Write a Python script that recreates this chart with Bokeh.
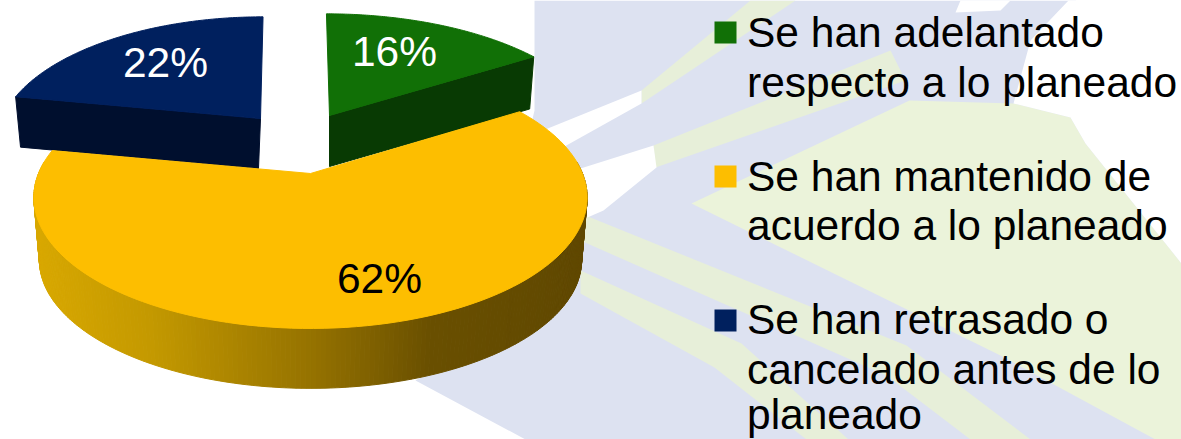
import numpy as np
from bokeh.plotting import figure
from bokeh.models import Range1d
from bokeh.core.properties import value
from bokeh.embed import file_html
from bokeh.resources import INLINE

# data
categories = [
    "Se han adelantado\nrespecto a lo planeado",
    "Se han mantenido de\nacuerdo a lo planeado",
    "Se han retrasado o\ncancelado antes de lo\nplaneado",
]
values = [16, 62, 22]
labels = ["16%", "62%", "22%"]
top_colors = ["#117006", "#fdbe00", "#00205e"]
side_colors = ["#083a03", "#000000", "#000f2e"]
label_colors = ["white", "black", "white"]

# pie projection (reference pixels)
CX, CY = 310.0, 173.0
A, B, K = 272.0, 126.6, 0.183
# dx, dy, x scale, y scale, depth, shear
explode = [(19, -58, 0.985, 0.95, 51, -0.03), (0, 0, 1.0, 1.0, 63, 0.0), (-50, -55, 0.95, 0.95, 50, 0.025)]
label_pos = [(394, 51), (379, 278), (165, 62)]
legend_y = [32, 176, 320]
line_base = [[32, 82], [176, 225], [319, 369, 414]]


def rim(theta, sx=1.0, sy=1.0, cx=CX, cy=CY, shear=0.0):
    s, c = np.sin(theta), np.cos(theta)
    d = 1 - K * s
    dy_ = sy * B * s / d
    return cx + sx * A * c / d - shear * dy_, cy + dy_


p = figure(width=1181, height=439, output_backend="svg", toolbar_location=None,
           x_range=Range1d(0, 1181), y_range=Range1d(439, 0),
           min_border=0, background_fill_color="white", border_fill_color="white")
p.axis.visible = False
p.grid.visible = False
p.outline_line_color = None

# backdrop
BLUE, GREEN, LG = "#dde2f1", "#ebf3da", "#e7efd9"
bg = [
    ([534, 1075, 1181, 1181, 1181, 525, 415, 480, 534], [0, 0, 70, 263, 439, 439, 380, 340, 110], BLUE),
    ([691, 909, 1013, 1070, 1085, 1181, 1181, 1155, 1000], [203, 100, 103, 117, 143, 263, 439, 439, 355], GREEN),
    ([585, 906, 1030, 970, 886, 580], [215, 345, 439, 439, 375, 240], LG),
    ([580, 741, 848, 806, 714, 580], [270, 343, 439, 439, 367, 293], LG),
    ([641, 750, 795, 641], [90, 0, 0, 103], LG),
    ([653, 890, 905, 655], [145, 50, 80, 167], LG),
    ([1068, 1181, 1181, 1085, 1070, 1013, 1030], [0, 0, 263, 143, 117, 103, 40], "#ffffff"),
    ([960, 1010, 1000, 955], [0, 0, 10, 12], "#ffffff"),
    ([530, 641, 641, 530], [135, 90, 103, 165], "#ffffff"),
    ([580, 653, 656, 603, 580], [168, 145, 167, 210, 220], "#ffffff"),
]
p.patches([b[0] for b in bg], [b[1] for b in bg], fill_color=[b[2] for b in bg], line_color=None)

# slice angles, clockwise on screen starting from 12 o'clock
edges = -np.pi / 2 + np.cumsum([0] + values) / sum(values) * 2 * np.pi
spans = list(zip(edges[:-1], edges[1:]))


def outline(i):
    dx, dy, sx, sy, _, shear = explode[i]
    t = np.linspace(spans[i][0], spans[i][1], 120)
    x, y = rim(t, sx, sy, CX + dx, CY + dy, shear)
    return np.r_[CX + dx, x], np.r_[CY + dy, y]


# cut faces of the pulled-out slices
for i, angle, lean in ((0, spans[0][1], 0), (2, spans[2][0], -2)):
    dx, dy, sx, sy, depth, shear = explode[i]
    ex, ey = rim(angle, sx, sy, CX + dx, CY + dy, shear)
    ax, ay = CX + dx, CY + dy
    ex2, ey2 = rim(angle, sx * 0.98, sy * 0.98, CX + dx, CY + dy + depth, shear)
    p.patch([ax, ex, ex2, ax + lean], [ay, ey, ey2, ay + depth],
            fill_color=side_colors[i], line_color=side_colors[i], line_width=1)
    x, y = outline(i)
    p.patch(x, y, fill_color=top_colors[i], line_color=top_colors[i], line_width=1)

# shaded rim of the large slice
stop_x = [38, 150, 310, 430, 585]
stop_rgb = np.array([[216, 168, 0], [196, 153, 0], [150, 115, 0], [106, 80, 0], [96, 72, 0]], float)
depth = explode[1][4]
theta = np.linspace(spans[1][0], spans[1][1], 260)
theta = theta[(theta > -0.1) & (theta < np.pi + 0.1)]
xs_s, ys_s, col = [], [], []
for t0, t1 in zip(theta[:-1], theta[1:]):
    x0, y0 = rim(t0)
    x1, y1 = rim(t1)
    x2, y2 = rim(t1, 0.98, 0.98, CX, CY + depth)
    x3, y3 = rim(t0, 0.98, 0.98, CX, CY + depth)
    xs_s.append([x0, x1, x2, x3])
    ys_s.append([y0, y1, y2, y3])
    mid = (x0 + x1) / 2
    rgb = [int(np.interp(mid, stop_x, stop_rgb[:, k])) for k in range(3)]
    col.append("#%02x%02x%02x" % tuple(rgb))
p.patches(xs_s, ys_s, fill_color=col, line_color=col, line_width=1)
x, y = outline(1)
p.patch(x, y, fill_color=top_colors[1], line_color=top_colors[1], line_width=1)

FONT = value("Liberation Sans")
# percentage labels
p.text([q[0] for q in label_pos], [q[1] for q in label_pos], text=labels,
       text_color=label_colors, text_font=FONT, text_font_size="42.5px",
       text_align="center", text_baseline="middle")

# legend
p.rect([725] * 3, legend_y, width=22, height=22, fill_color=top_colors, line_color=None)
for cat, bases in zip(categories, line_base):
    lines = cat.split("\n")
    p.text([746.5] * len(lines), bases, text=lines, text_color="black", text_font=FONT,
           text_font_size="42.5px", text_align="left", text_baseline="middle")

open("out.html", "w").write(file_html(p, INLINE))
